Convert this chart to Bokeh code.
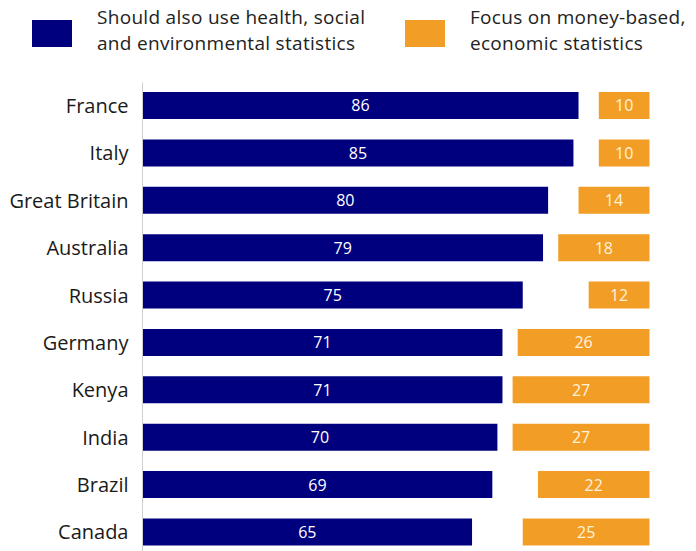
from bokeh.plotting import figure
from bokeh.layouts import column
from bokeh.models import Range1d, FixedTicker, ColumnDataSource, Div
from bokeh.core.properties import value
from bokeh.embed import file_html
from bokeh.resources import INLINE

countries = ["France", "Italy", "Great Britain", "Australia", "Russia",
             "Germany", "Kenya", "India", "Brazil", "Canada"]
broader = [86, 85, 80, 79, 75, 71, 71, 70, 69, 65]
money = [10, 10, 14, 18, 12, 26, 27, 27, 22, 25]
series_names = ["Should also use health, social\nand environmental statistics",
                "Focus on money-based,\neconomic statistics"]

NAVY = "#00007F"
ORANGE = "#F29D26"
FONT = "Open Sans"
TOTAL = 100

idx = list(range(len(countries)))
src = ColumnDataSource(dict(
    y=idx,
    broader=broader,
    money=money,
    broader_mid=[v / 2 for v in broader],
    money_left=[TOTAL - v for v in money],
    money_mid=[TOTAL - v / 2 for v in money],
    broader_txt=[str(v) for v in broader],
    money_txt=[str(v) for v in money],
))

W = 696
LEG_H = 82
PLOT_H = 551 - LEG_H
LEFT = 142

# ---- legend (HTML strip above the chart) ----
parts = []
for name, col, sx, tx in zip(series_names, [NAVY, ORANGE], [32, 405], [97, 470]):
    parts.append(
        f'<div style="position:absolute;left:{sx}px;top:20px;width:40px;height:27px;'
        f'background:{col};"></div>')
    for k, line in enumerate(name.split("\n")):
        parts.append(
            f'<div style="position:absolute;left:{tx}px;top:{4 + 26 * k}px;'
            f'white-space:nowrap;letter-spacing:0.3px;">{line}</div>')
legend_html = (
    f'<div style="position:relative;width:{W}px;height:{LEG_H}px;'
    f"font-family:'{FONT}';font-size:19px;line-height:26px;color:#222222;\">"
    + "".join(parts) + '</div>')
leg = Div(text=legend_html, width=W, height=LEG_H,
          styles={"margin": "0", "padding": "0", "background": "white"})

# ---- main chart ----
p = figure(width=W, height=PLOT_H, output_backend="svg", toolbar_location=None,
           x_range=Range1d(0, 109.27), y_range=Range1d(9.4115, -0.4853),
           min_border_left=LEFT, min_border_right=0, min_border_top=0,
           min_border_bottom=0)
p.outline_line_color = None
p.grid.visible = False
p.xaxis.visible = False
p.background_fill_color = "white"
p.border_fill_color = "white"

p.hbar(y="y", left=0, right="broader", height=0.57, source=src,
       fill_color=NAVY, line_color=None)
p.hbar(y="y", left="money_left", right=TOTAL, height=0.57, source=src,
       fill_color=ORANGE, line_color=None)

p.text(x="broader_mid", y="y", text="broader_txt", source=src,
       text_font=value(FONT), text_font_size="16px", text_color="white",
       text_align="center", text_baseline="middle")
p.text(x="money_mid", y="y", text="money_txt", source=src,
       text_font=value(FONT), text_font_size="16px", text_color="#FFF3DA",
       text_align="center", text_baseline="middle")

yax = p.yaxis[0]
yax.ticker = FixedTicker(ticks=idx)
yax.major_label_overrides = {i: c for i, c in zip(idx, countries)}
yax.major_tick_line_color = None
yax.minor_tick_line_color = None
yax.major_tick_out = 0
yax.major_tick_in = 0
yax.axis_line_color = "#CFCFCF"
yax.axis_line_width = 1
yax.major_label_standoff = 14
yax.major_label_text_font = FONT
yax.major_label_text_font_size = "20px"
yax.major_label_text_color = "#1A1A1A"

layout = column(leg, p, spacing=0)
open("out.html", "w").write(file_html(layout, INLINE))
